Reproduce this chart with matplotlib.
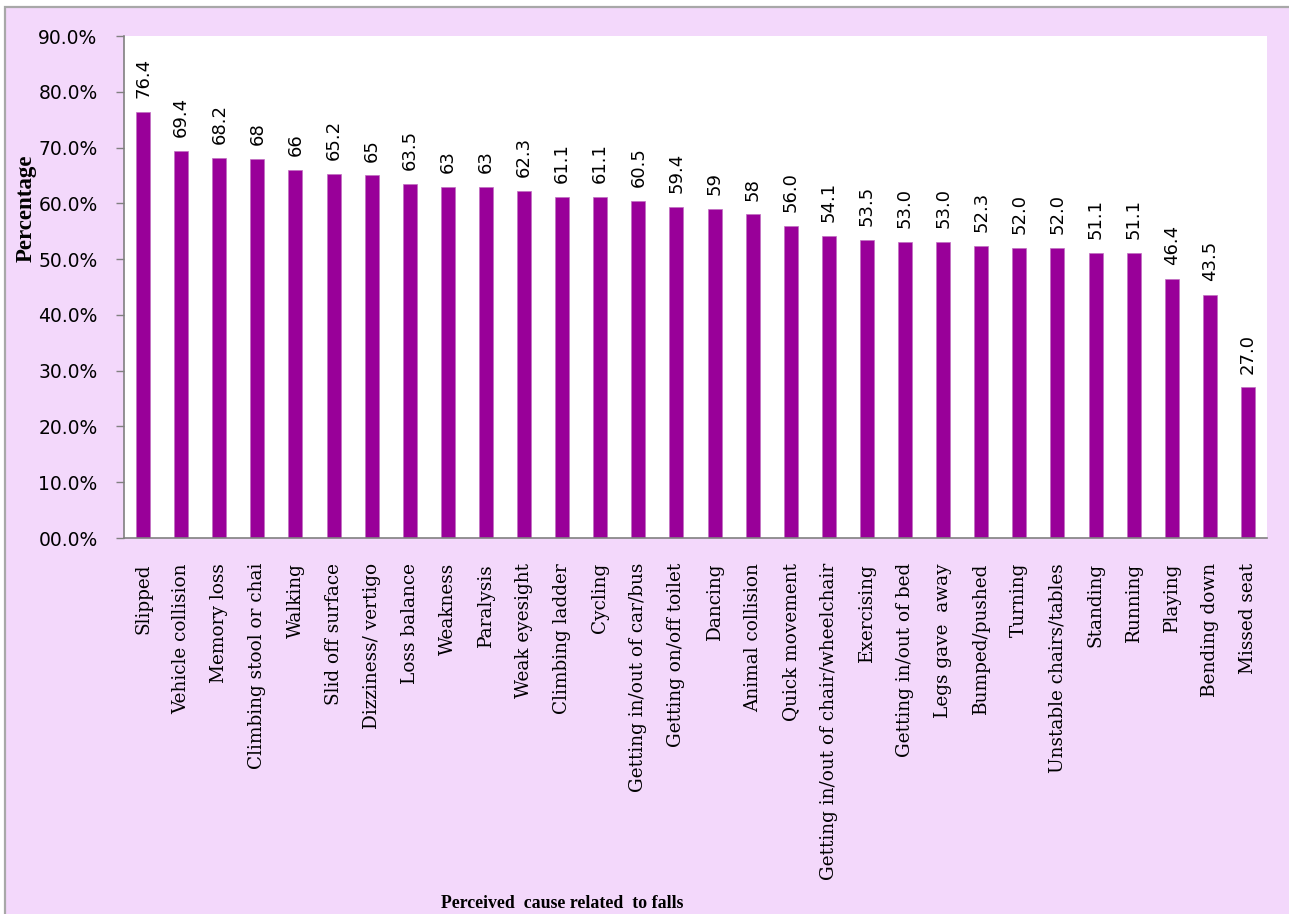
import matplotlib
matplotlib.use("Agg")
import matplotlib.pyplot as plt
from matplotlib.patches import Rectangle

causes = ["Slipped", "Vehicle collision", "Memory loss", "Climbing stool or chai",
          "Walking", "Slid off surface", "Dizziness/ vertigo", "Loss balance",
          "Weakness", "Paralysis", "Weak eyesight", "Climbing ladder", "Cycling",
          "Getting in/out of car/bus", "Getting on/off toilet", "Dancing",
          "Animal collision", "Quick movement", "Getting in/out of chair/wheelchair",
          "Exercising", "Getting in/out of bed", "Legs gave  away", "Bumped/pushed",
          "Turning", "Unstable chairs/tables", "Standing", "Running", "Playing",
          "Bending down", "Missed seat"]
values = [76.4, 69.4, 68.2, 68.0, 66.0, 65.2, 65.0, 63.5, 63.0, 63.0, 62.3, 61.1,
          61.1, 60.5, 59.4, 59.0, 58.0, 56.0, 54.1, 53.5, 53.0, 53.0, 52.3, 52.0,
          52.0, 51.1, 51.1, 46.4, 43.5, 27.0]
value_labels = ["76.4", "69.4", "68.2", "68", "66", "65.2", "65", "63.5", "63", "63",
                "62.3", "61.1", "61.1", "60.5", "59.4", "59", "58", "56.0", "54.1",
                "53.5", "53.0", "53.0", "52.3", "52.0", "52.0", "51.1", "51.1",
                "46.4", "43.5", "27.0"]
yticks = [0, 10, 20, 30, 40, 50, 60, 70, 80, 90]
ytick_labels = ["00.0%", "10.0%", "20.0%", "30.0%", "40.0%", "50.0%", "60.0%",
                "70.0%", "80.0%", "90.0%"]

W, H = 1289, 914
fig = plt.figure(figsize=(W / 100, H / 100), dpi=100, facecolor="white")

bg = "#f3d8fb"
fig.patches.append(Rectangle((5 / W, -0.05), 1.1, (914 - 7) / H + 0.05,
                             transform=fig.transFigure, facecolor=bg,
                             edgecolor="#a8a8a8", linewidth=1.6, zorder=-10))

ax = fig.add_axes([124 / W, (H - 538) / H, (1267 - 124) / W, (538 - 36) / H])
ax.set_zorder(1)
ax.set_facecolor("white")
n = len(causes)
x = list(range(n))
ax.bar(x, values, width=0.37, color="#990099", edgecolor="#c070c0", linewidth=0.5, zorder=2)
ax.set_xlim(-0.5, n - 0.5)
ax.set_ylim(0, 90)

for xi, v, lab in zip(x, values, value_labels):
    ax.annotate(lab, (xi, v), xytext=(0, 10), textcoords="offset points",
                rotation=90, ha="center", va="bottom", fontsize=13,
                family="DejaVu Sans", color="black")

ax.set_yticks(yticks)
ax.set_yticklabels(ytick_labels, family="DejaVu Sans", fontsize=13.5)
ax.set_xticks(x)
ax.set_xticklabels(causes, rotation=90, family="DejaVu Serif", fontsize=13.3,
                   va="top", ha="center")
ax.tick_params(axis="y", length=6, width=1, color="#808080", pad=13)
ax.tick_params(axis="x", length=0, pad=18)
for s in ["top", "right"]:
    ax.spines[s].set_visible(False)
for s in ["left", "bottom"]:
    ax.spines[s].set_color("#808080")
    ax.spines[s].set_linewidth(1.2)

fig.text(26 / W, 1 - 208 / H, "Percentage", rotation=90, ha="center", va="center",
         family="Liberation Serif", fontweight="bold", fontsize=16.5)
fig.text(562 / W, 1 - 903 / H, "Perceived  cause related  to falls", ha="center",
         va="center", family="Liberation Serif", fontweight="bold", fontsize=12.8)

fig.savefig("out.png", dpi=100, facecolor="white")
